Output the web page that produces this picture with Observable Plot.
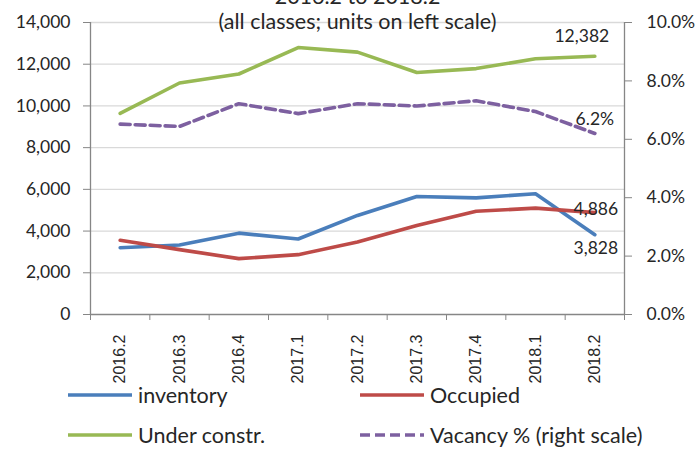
<!DOCTYPE html>
<html>
<head>
<meta charset="utf-8">
<script src="https://cdn.jsdelivr.net/npm/d3@7"></script>
<script src="https://cdn.jsdelivr.net/npm/@observablehq/plot@0.6"></script>
<style>
  html, body { margin: 0; padding: 0; background: #fff; }
  #wrap { position: relative; width: 698px; height: 449px; overflow: hidden; font-family: Lato, "Open Sans", sans-serif; color: #262626; }
  .leg { position: absolute; display: flex; align-items: center; font-size: 21.5px; line-height: 24px; white-space: nowrap; }
  .leg svg { margin-right: 6px; }
</style>
</head>
<body>
<div id="wrap"></div>
<script>
// ---- data ----
const quarters = ["2016.2","2016.3","2016.4","2017.1","2017.2","2017.3","2017.4","2018.1","2018.2"];
const inventory = [3200, 3330, 3900, 3620, 4750, 5660, 5590, 5790, 3828];
const occupied  = [3560, 3110, 2680, 2870, 3480, 4270, 4950, 5100, 4886];
const underConstr = [9640, 11100, 11530, 12800, 12580, 11600, 11790, 12260, 12382];
const vacancyPct = [6.52, 6.44, 7.22, 6.88, 7.22, 7.14, 7.32, 6.95, 6.2];
const leftTicks = [0, 2000, 4000, 6000, 8000, 10000, 12000, 14000];
const rightTicks = [0, 2, 4, 6, 8, 10];
const titleLines = ["2016.2 to 2018.2", "(all classes; units on left scale)"];

const colors = {inventory: "#4a7ebb", occupied: "#be4b48", under: "#98b954", vacancy: "#7d60a0"};
const pctToLeft = 14000 / 10; // right scale 0–10% shares the plot height with 0–14,000

const idx = quarters.map((q, i) => i + 1);
const mk = (arr) => arr.map((v, i) => ({x: i + 1, y: v}));
const invData = mk(inventory);
const occData = mk(occupied);
const ucData = mk(underConstr);
const vacData = vacancyPct.map((v, i) => ({x: i + 1, y: v * pctToLeft, v}));
const boundaries = d3.range(quarters.length + 1).map(i => i + 0.5);
const last = quarters.length - 1;

const axisColor = "#868686";
const lw = 3.6;

const chart = Plot.plot({
  width: 698,
  height: 380,
  marginTop: 22,
  marginBottom: 66,
  marginLeft: 90,
  marginRight: 74,
  style: {fontFamily: "Lato, sans-serif", color: "#262626", overflow: "visible", background: "transparent"},
  x: {type: "linear", domain: [0.5, quarters.length + 0.5]},
  y: {domain: [0, 14000]},
  marks: [
    Plot.gridY(leftTicks.filter(d => d > 0), {stroke: "#d9d9d9", strokeOpacity: 1, strokeWidth: 1.3}),
    Plot.ruleY([0], {stroke: axisColor, strokeWidth: 1.3}),
    Plot.ruleX([0.5, quarters.length + 0.5], {stroke: axisColor, strokeWidth: 1.3}),
    Plot.axisY({ticks: leftTicks, tickFormat: d3.format(","), tickSize: 7, tickPadding: 13, stroke: axisColor, fontSize: 17.5, label: null}),
    Plot.axisY({anchor: "right", ticks: rightTicks.map(d => d * pctToLeft), tickFormat: d => (d / pctToLeft).toFixed(1) + "%", tickSize: 7, tickPadding: 15, stroke: axisColor, fontSize: 17.5, label: null}),
    Plot.axisX({ticks: boundaries, tickFormat: () => "", tickSize: 6, stroke: axisColor, label: null}),
    Plot.axisX({ticks: idx, tickFormat: i => quarters[i - 1], tickSize: 0, tickPadding: 20, tickRotate: -90, fontSize: 16, fontFamily: "Liberation Sans, Arial, sans-serif", label: null}),
    Plot.line(ucData, {x: "x", y: "y", stroke: colors.under, strokeWidth: lw}),
    Plot.line(vacData, {x: "x", y: "y", stroke: colors.vacancy, strokeWidth: lw, strokeDasharray: "10,5"}),
    Plot.line(invData, {x: "x", y: "y", stroke: colors.inventory, strokeWidth: lw}),
    Plot.line(occData, {x: "x", y: "y", stroke: colors.occupied, strokeWidth: lw}),
    Plot.text([ucData[last]], {x: "x", y: "y", text: d => d3.format(",")(d.y), dx: -13, dy: -20, fontSize: 17.5}),
    Plot.text([vacData[last]], {x: "x", y: "y", text: d => d.v.toFixed(1) + "%", dx: 0, dy: -14, fontSize: 17.5}),
    Plot.text([occData[last]], {x: "x", y: "y", text: d => d3.format(",")(d.y), dx: 1, dy: -3, fontSize: 17.5}),
    Plot.text([invData[last]], {x: "x", y: "y", text: d => d3.format(",")(d.y), dx: 1, dy: 14, fontSize: 17.5}),
    Plot.text([titleLines[0]], {frameAnchor: "top", dy: -34, fontSize: 21.5}),
    Plot.text([titleLines[1]], {frameAnchor: "top", dy: -9, fontSize: 21.5})
  ]
});

const wrap = document.getElementById("wrap");
chart.style.position = "absolute";
chart.style.left = "0px";
chart.style.top = "0px";
wrap.appendChild(chart);

const legendItems = [
  {label: "inventory", color: colors.inventory, dash: null, x: 68, y: 395},
  {label: "Occupied", color: colors.occupied, dash: null, x: 360, y: 395},
  {label: "Under constr.", color: colors.under, dash: null, x: 68, y: 435},
  {label: "Vacancy % (right scale)", color: colors.vacancy, dash: "10,5", x: 360, y: 435}
];
for (const it of legendItems) {
  const div = document.createElement("div");
  div.className = "leg";
  div.style.left = it.x + "px";
  div.style.top = (it.y - 12) + "px";
  div.style.height = "24px";
  div.innerHTML = `<svg width="64" height="8"><line x1="0" x2="64" y1="4" y2="4" stroke="${it.color}" stroke-width="${lw}" ${it.dash ? `stroke-dasharray="${it.dash}"` : ""}/></svg><span>${it.label}</span>`;
  wrap.appendChild(div);
}
</script>
</body>
</html>
